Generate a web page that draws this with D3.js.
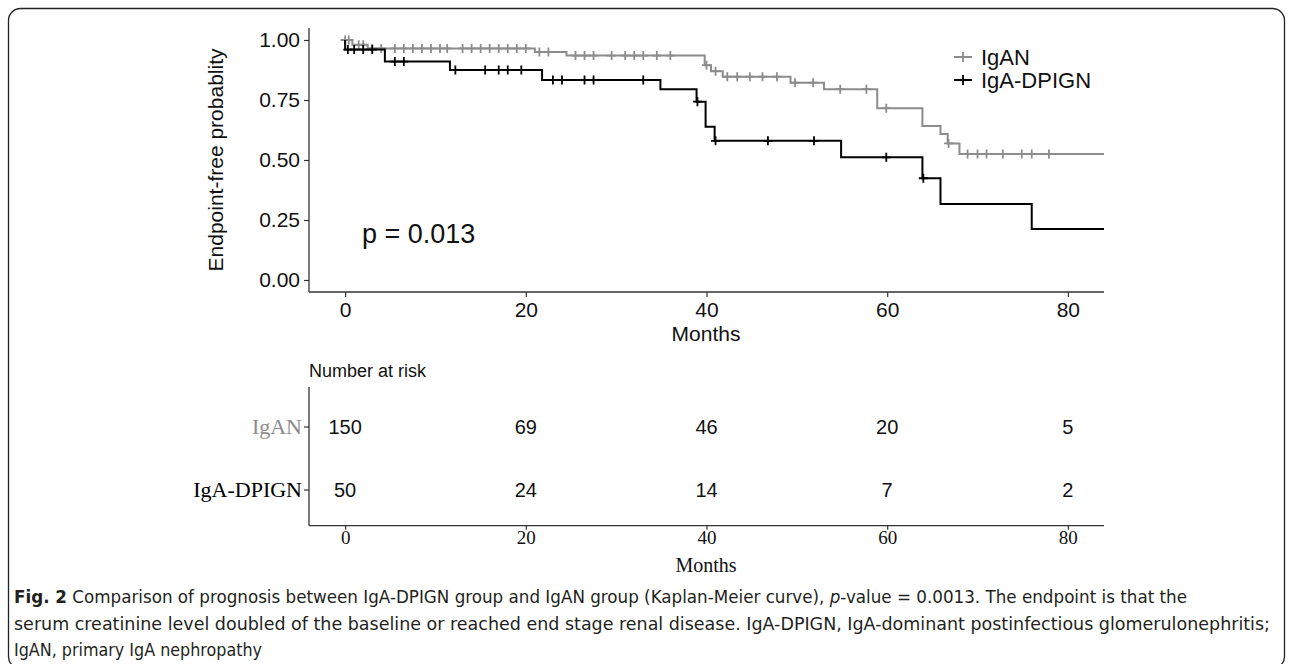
<!DOCTYPE html>
<html>
<head>
<meta charset="utf-8">
<script src="https://cdn.jsdelivr.net/npm/d3@7"></script>
<style>
  body { margin: 0; background: #fff; }
  svg { display: block; }
</style>
</head>
<body>
<svg id="chart" width="1292" height="664"></svg>
<script>
// data
const groups = ["IgAN", "IgA-DPIGN"];
const groupColors = ["#8c8c8c", "#000000"];

const iganStepTimes = [0, 0.8, 2.5, 21, 24.5, 39.8, 40.5, 41.8, 49.3, 53, 58.9, 63.9, 65.9, 66.7, 68];
const iganSurv = [1.0, 0.98, 0.965, 0.95, 0.935, 0.895, 0.87, 0.847, 0.822, 0.795, 0.716, 0.642, 0.608, 0.569, 0.525];
const iganCensor = [0, 0.4, 1.5, 2, 3, 4, 5.5, 6.5, 7.5, 8.5, 9.5, 10.5, 11.3, 13, 14, 15, 16, 17, 18, 19, 20,
  21.5, 22.5, 25.5, 26.5, 27.5, 29.5, 31, 32, 33, 34.5, 36, 40, 41, 42.3, 43.4, 44.8, 46.2, 47.8,
  49.8, 51.8, 54.8, 57.7, 59.9, 66.8, 68.9, 70, 71, 72.8, 74.9, 76, 77.9];

const dpignStepTimes = [0, 0, 4.4, 11.6, 21.8, 34.9, 38.9, 39.9, 40.9, 54.9, 63.9, 65.9, 76];
const dpignSurv = [1.0, 0.96, 0.91, 0.875, 0.833, 0.795, 0.743, 0.639, 0.58, 0.511, 0.424, 0.317, 0.2125];
const dpignCensor = [0.3, 1, 2, 3, 5.5, 6.5, 12.2, 15.5, 17, 18, 19.5, 23, 24, 26.5, 27.5, 33, 39, 41, 46.8, 51.9, 59.9, 64];

const yTicks = [0, 0.25, 0.5, 0.75, 1];
const xTicks = [0, 20, 40, 60, 80];

const riskTimes = [0, 20, 40, 60, 80];
const riskIgAN = [150, 69, 46, 20, 5];
const riskDPIGN = [50, 24, 14, 7, 2];

const pLabel = "p = 0.013";

const svg = d3.select("#chart");
const SANS = "'Liberation Sans', Arial, sans-serif";
const SERIF = "'Liberation Serif', 'Times New Roman', serif";

// frame
svg.append("rect")
  .attr("x", 8.5).attr("y", 8.5)
  .attr("width", 1276).attr("height", 660)
  .attr("rx", 12)
  .attr("fill", "none")
  .attr("stroke", "#222")
  .attr("stroke-width", 1.3);

// ---- survival panel ----
const x = d3.scaleLinear().domain([-4, 84]).range([309, 1104]);
const y = d3.scaleLinear().domain([-0.05, 1.05]).range([292, 28]);

const yAxis = svg.append("g")
  .attr("transform", "translate(309,0)")
  .call(d3.axisLeft(y).tickValues(yTicks).tickFormat(d3.format(".2f")).tickSize(5).tickPadding(4));
yAxis.select(".domain").attr("d", "M0,28V292").attr("stroke", "#333").attr("stroke-width", 1.3);

const xAxis = svg.append("g")
  .attr("transform", "translate(0,292)")
  .call(d3.axisBottom(x).tickValues(xTicks).tickSize(5).tickPadding(5));
xAxis.select(".domain").attr("d", "M309,0H1104").attr("stroke", "#333").attr("stroke-width", 1.3);

[yAxis, xAxis].forEach(g => {
  g.selectAll(".tick line").attr("stroke", "#333").attr("stroke-width", 1.2);
  g.selectAll(".tick text").attr("fill", "#111").style("font-family", SANS).style("font-size", "21px");
});

svg.append("text")
  .attr("transform", "translate(223,160) rotate(-90)")
  .attr("text-anchor", "middle")
  .style("font-family", SANS).style("font-size", "21px").attr("fill", "#111")
  .text("Endpoint-free probablity");

svg.append("text")
  .attr("x", 706).attr("y", 341)
  .attr("text-anchor", "middle")
  .style("font-family", SANS).style("font-size", "21px").attr("fill", "#111")
  .text("Months");

// step curves
const curves = [
  { times: iganStepTimes, surv: iganSurv, censor: iganCensor, color: groupColors[0] },
  { times: dpignStepTimes, surv: dpignSurv, censor: dpignCensor, color: groupColors[1] }
];

function survAt(c, t) {
  let s = c.surv[0];
  c.times.forEach((tt, i) => { if (tt <= t) s = c.surv[i]; });
  return s;
}

const line = d3.line().x(d => x(d[0])).y(d => y(d[1])).curve(d3.curveStepAfter);

function plus(g, cx, cy, r, color) {
  g.append("path")
    .attr("d", `M${cx - r},${cy}H${cx + r}M${cx},${cy - r}V${cy + r}`)
    .attr("stroke", color).attr("stroke-width", 1.8).attr("fill", "none");
}

curves.forEach(c => {
  const pts = c.times.map((t, i) => [t, c.surv[i]]);
  pts.push([84, c.surv[c.surv.length - 1]]);
  svg.append("path")
    .datum(pts)
    .attr("d", line)
    .attr("fill", "none")
    .attr("stroke", c.color)
    .attr("stroke-width", 2);
  const cg = svg.append("g");
  c.censor.forEach(t => plus(cg, x(t), y(survAt(c, t)), 4.5, c.color));
});

// p value
svg.append("text")
  .attr("x", 362).attr("y", 243)
  .style("font-family", SANS).style("font-size", "27px").attr("fill", "#111")
  .text(pLabel);

// legend
const legend = svg.append("g");
groups.forEach((gname, i) => {
  const ly = 57 + i * 23;
  legend.append("line")
    .attr("x1", 954).attr("x2", 972).attr("y1", ly).attr("y2", ly)
    .attr("stroke", groupColors[i]).attr("stroke-width", 2);
  plus(legend, 963, ly, 5, groupColors[i]);
  legend.append("text")
    .attr("x", 981).attr("y", ly + 8)
    .style("font-family", SANS).style("font-size", "22px").attr("fill", "#111")
    .text(gname);
});

// ---- risk table ----
svg.append("text")
  .attr("x", 309).attr("y", 377)
  .style("font-family", SANS).style("font-size", "18px").attr("fill", "#111")
  .text("Number at risk");

const ty = d3.scalePoint().domain(groups).range([426.5, 489.5]);

const tyAxis = svg.append("g")
  .attr("transform", "translate(309,0)")
  .call(d3.axisLeft(ty).tickSize(5).tickPadding(2));
tyAxis.select(".domain").attr("d", "M0,387V525.7").attr("stroke", "#333").attr("stroke-width", 1.3);
tyAxis.selectAll(".tick line").attr("stroke", "#333").attr("stroke-width", 1.2);
tyAxis.selectAll(".tick text")
  .style("font-family", SERIF).style("font-size", "22px")
  .attr("fill", (d, i) => i === 0 ? "#8c8c8c" : "#000");

const txAxis = svg.append("g")
  .attr("transform", "translate(0,525.7)")
  .call(d3.axisBottom(x).tickValues(xTicks).tickSize(4).tickPadding(1));
txAxis.select(".domain").attr("d", "M309,0H1104").attr("stroke", "#333").attr("stroke-width", 1.3);
txAxis.selectAll(".tick line").attr("stroke", "#333").attr("stroke-width", 1.2);
txAxis.selectAll(".tick text").attr("fill", "#111").style("font-family", SERIF).style("font-size", "19px");

svg.append("text")
  .attr("x", 706).attr("y", 572)
  .attr("text-anchor", "middle")
  .style("font-family", SERIF).style("font-size", "20px").attr("fill", "#111")
  .text("Months");

[riskIgAN, riskDPIGN].forEach((row, i) => {
  svg.append("g").selectAll("text")
    .data(row)
    .join("text")
    .attr("x", (d, j) => x(riskTimes[j]))
    .attr("y", ty(groups[i]))
    .attr("dy", "0.35em")
    .attr("text-anchor", "middle")
    .style("font-family", SANS).style("font-size", "20px").attr("fill", "#111")
    .text(d => d);
});

// ---- caption ----
const capFont = "'Liberation Sans Narrow', 'DejaVu Sans Condensed', 'Liberation Sans', sans-serif";
const cap1 = svg.append("text")
  .attr("x", 14).attr("y", 603)
  .attr("textLength", 1173).attr("lengthAdjust", "spacingAndGlyphs")
  .style("font-family", capFont).style("font-size", "17px").attr("fill", "#231f20");
cap1.append("tspan").style("font-weight", "bold").text("Fig. 2");
cap1.append("tspan").text(" Comparison of prognosis between IgA-DPIGN group and IgAN group (Kaplan-Meier curve), ");
cap1.append("tspan").style("font-style", "italic").text("p");
cap1.append("tspan").text("-value = 0.0013. The endpoint is that the");

svg.append("text")
  .attr("x", 14).attr("y", 630)
  .attr("textLength", 1256).attr("lengthAdjust", "spacingAndGlyphs")
  .style("font-family", capFont).style("font-size", "17px").attr("fill", "#231f20")
  .text("serum creatinine level doubled of the baseline or reached end stage renal disease. IgA-DPIGN, IgA-dominant postinfectious glomerulonephritis;");

svg.append("text")
  .attr("x", 14).attr("y", 656)
  .attr("textLength", 248).attr("lengthAdjust", "spacingAndGlyphs")
  .style("font-family", capFont).style("font-size", "17px").attr("fill", "#231f20")
  .text("IgAN, primary IgA nephropathy");
</script>
</body>
</html>
